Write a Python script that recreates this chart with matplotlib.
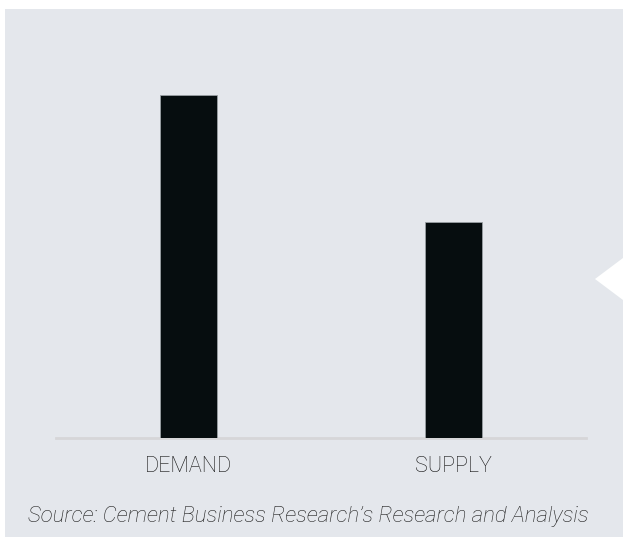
import matplotlib
matplotlib.use("Agg")
import matplotlib.pyplot as plt
from matplotlib.patches import Rectangle, Polygon

categories = ["DEMAND", "SUPPLY"]
values = [100, 63]
source = "Source: Cement Business Research\u2019s Research and Analysis"

W, H = 623, 540
fig = plt.figure(figsize=(W / 100, H / 100), dpi=100)
fig.patch.set_facecolor("white")

bg = "#e4e7ec"
fig.patches.append(Rectangle((5 / W, 3 / H), 1 - 5 / W, (537 - 9) / H,
                             transform=fig.transFigure, facecolor=bg,
                             edgecolor="none", zorder=-2))
# white pointer triangle on the right edge
fig.patches.append(Polygon([(595 / W, 1 - 279 / H), (1.0, 1 - 258 / H), (1.0, 1 - 300 / H)],
                           closed=True, transform=fig.transFigure,
                           facecolor="white", edgecolor="none", zorder=-1))

ax = fig.add_axes([56 / W, (H - 438) / H, 530 / W, 429 / H])
ax.set_zorder(2)
ax.set_facecolor("none")
x = list(range(len(categories)))
ax.bar(x, values, width=0.2155, color="#060d0f", edgecolor="#9aa0a4",
       linewidth=0.6, zorder=3)
ax.set_xlim(-0.5, 1.5)
ax.set_ylim(0, 125.2)
for s in ["top", "right", "left"]:
    ax.spines[s].set_visible(False)
ax.spines["bottom"].set_color("#d6d6d8")
ax.spines["bottom"].set_linewidth(2)
ax.set_yticks([])
ax.set_xticks(x)
ax.set_xticklabels(categories, fontfamily="Roboto", fontweight="light",
                   fontsize=15.5, color="#111111")
ax.tick_params(axis="x", length=0, pad=13)

fig.text(308 / W, 1 - 522 / H, source, ha="center", va="baseline",
         fontfamily="Roboto", fontweight="light", fontstyle="italic",
         fontsize=16, color="#1e1e1e")

fig.savefig("out.png", dpi=100, facecolor="white")
